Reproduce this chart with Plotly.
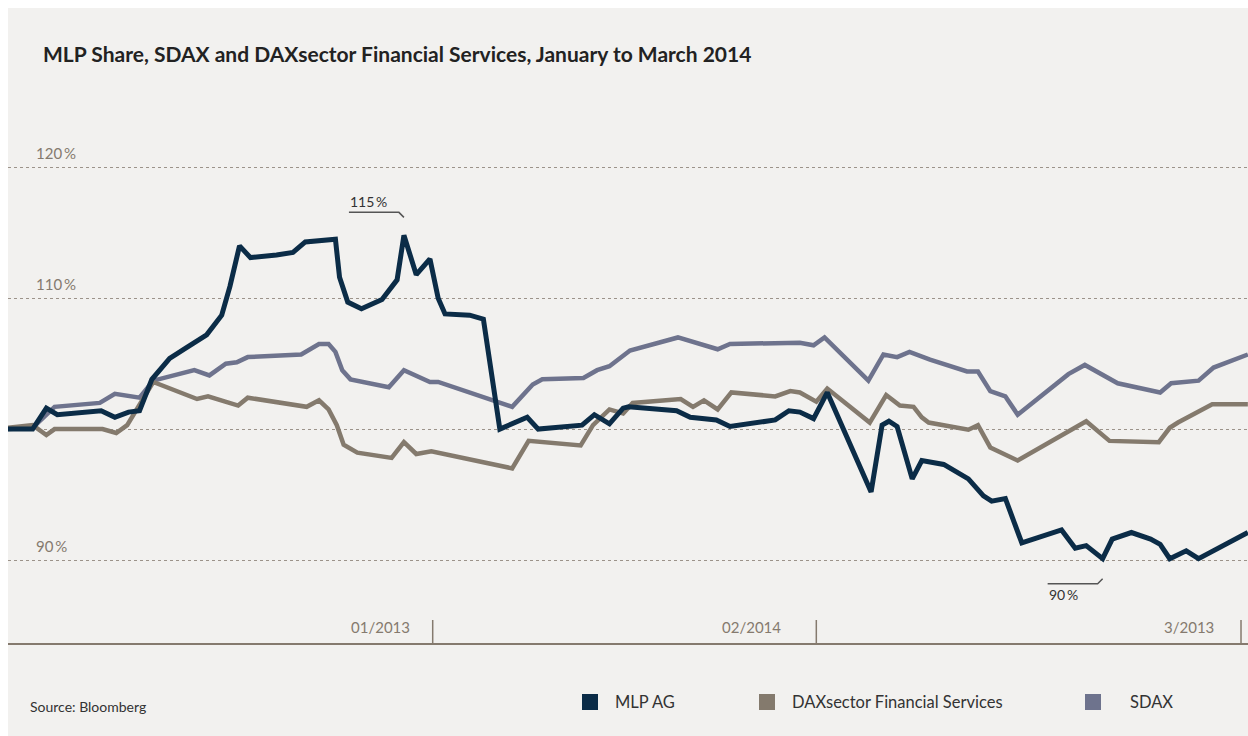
import pandas as pd
import plotly.graph_objects as go

BASE_DATE = "2014-01-01"

# ---- data (day offsets from 1 Jan 2014, index level in %) ----
mlp_days = [0, 1.8, 2.8, 3.6, 6.8, 7.8, 8.8, 9.6, 10.5, 11.8,
            13.0, 14.5, 15.6, 16.2, 16.9, 17.7, 19.6, 20.8, 21.7, 22.8,
            23.9, 24.2, 24.8, 25.8, 27.3, 28.4, 28.9, 29.8, 30.8, 31.4,
            31.9, 33.7, 34.7, 35.9, 37.9, 38.7, 41.9, 42.8, 43.9, 44.9,
            45.3, 48.8, 49.8, 51.7, 52.7, 56.0, 57.0, 57.8, 58.8, 59.8,
            63.0, 63.8, 64.3, 64.9, 66.0, 66.7, 68.3, 70.1, 71.2, 71.8,
            72.8, 74.0, 76.9, 77.9, 78.7, 79.9, 80.6, 82.0, 83.4, 84.1,
            84.8, 86.0, 86.9, 90.5]
mlp_values = [100, 100, 101.6, 101.1, 101.4, 100.9, 101.3, 101.4, 103.8, 105.4,
              106.2, 107.2, 108.7, 110.9, 114.0, 113.1, 113.3, 113.5, 114.3, 114.4,
              114.5, 111.6, 109.7, 109.2, 109.9, 111.4, 114.8, 111.8, 113.0, 110.0,
              108.8, 108.7, 108.4, 100.0, 100.9, 100.0, 100.3, 101.1, 100.4, 101.6,
              101.7, 101.4, 100.9, 100.7, 100.2, 100.7, 101.4, 101.3, 100.8, 102.8,
              95.2, 100.3, 100.6, 100.2, 96.2, 97.6, 97.3, 96.2, 94.9, 94.5,
              94.7, 91.3, 92.3, 90.9, 91.1, 90.1, 91.6, 92.1, 91.6, 91.2,
              90.1, 90.7, 90.1, 92.1]

dax_days = [0, 1.8, 2.8, 3.4, 6.9, 7.9, 8.7, 9.6, 10.6, 13.8,
            14.6, 16.8, 17.5, 21.8, 22.7, 23.4, 24.0, 24.5, 25.5, 28.0,
            28.9, 29.8, 30.9, 36.8, 38.0, 41.8, 42.7, 43.9, 44.9, 45.6,
            49.1, 50.0, 50.8, 51.8, 52.8, 56.0, 57.1, 57.8, 59.0, 59.8,
            62.9, 64.1, 65.1, 66.1, 66.7, 67.2, 70.1, 70.8, 71.7, 73.7,
            78.7, 80.4, 84.0, 84.8, 85.4, 87.9, 90.5]
dax_values = [100.1, 100.3, 99.55, 100, 100, 99.7, 100.3, 101.8, 103.6, 102.3,
              102.5, 101.8, 102.4, 101.7, 102.2, 101.5, 100.3, 98.8, 98.2, 97.8,
              99.0, 98.1, 98.3, 97.0, 99.1, 98.75, 100.3, 101.5, 101.2, 102.0,
              102.3, 101.7, 102.2, 101.5, 102.8, 102.5, 102.9, 102.8, 102.1, 103.1,
              100.5, 102.6, 101.8, 101.7, 100.9, 100.5, 99.95, 100.3, 98.6, 97.6,
              100.6, 99.1, 99.0, 100.1, 100.5, 101.9, 101.9]

sdax_days = [0, 1.8, 3.4, 6.7, 7.8, 9.6, 10.6, 13.6, 14.7, 15.9,
             16.7, 17.5, 21.4, 22.7, 23.4, 23.9, 24.4, 25.0, 27.8, 28.9,
             30.8, 31.4, 36.8, 38.3, 39.0, 42.0, 43.0, 43.9, 45.4, 48.9,
             51.8, 52.7, 57.8, 58.8, 59.6, 62.8, 63.9, 64.9, 65.8, 67.3,
             70.0, 70.8, 71.7, 72.8, 73.7, 77.4, 78.6, 80.1, 81.0, 84.1,
             84.9, 86.9, 88.0, 90.5]
sdax_values = [100, 100.1, 101.7, 102.0, 102.7, 102.4, 103.7, 104.5, 104.1, 105.0,
               105.1, 105.5, 105.7, 106.5, 106.5, 105.9, 104.5, 103.8, 103.2, 104.5,
               103.6, 103.6, 101.7, 103.4, 103.8, 103.9, 104.5, 104.8, 106.0, 107.0,
               106.1, 106.5, 106.6, 106.4, 107.0, 103.7, 105.7, 105.5, 105.9, 105.3,
               104.4, 104.4, 102.9, 102.5, 101.1, 104.2, 104.9, 104.0, 103.5, 102.8,
               103.5, 103.7, 104.7, 105.7]

series_names = ["MLP AG", "DAXsector Financial Services", "SDAX"]
series_colors = ["#0b2c47", "#847a6d", "#6e738d"]

ytick_values = [90, 100, 110, 120]
ytick_labels = ["90\u2009%", "", "110\u2009%", "120\u2009%"]

xtick_dates = ["2014-02-01", "2014-03-01", "2014-04-01"]
xtick_labels = ["01/2013", "02/2014", "3/2013"]

peak_label = {"day": 28.9, "value": 114.8, "text": "115\u2009%"}
low_label = {"day": 79.9, "value": 90.1, "text": "90\u2009%"}

title_text = "MLP Share, SDAX and DAXsector Financial Services, January to March 2014"
source_text = "Source: Bloomberg"

# ---- helpers ----
base = pd.Timestamp(BASE_DATE)


def to_dates(days):
    return [base + pd.Timedelta(days=d) for d in days]


def iso(day):
    return (base + pd.Timedelta(days=day)).strftime("%Y-%m-%d %H:%M:%S")


FONT = "Lato"
BG = "#f2f1ef"
AXIS_COL = "#857a6e"
W, H = 1240, 728
L, R, T, B = 0, 0, 92, 93
PH = H - T - B

fig = go.Figure()

series = [
    (sdax_days, sdax_values, 2, 4.5),
    (dax_days, dax_values, 1, 4.5),
    (mlp_days, mlp_values, 0, 5),
]
for days, vals, idx, lw in series:
    fig.add_trace(go.Scatter(
        x=to_dates(days), y=vals, mode="lines",
        name=series_names[idx],
        line=dict(color=series_colors[idx], width=lw),
        hoverinfo="skip", showlegend=False,
    ))

annotations = []
shapes = []

# title
annotations.append(dict(
    text=title_text, xref="paper", yref="paper",
    x=(41 - 8) / W, y=(643 - 53) / PH, xanchor="left", yanchor="middle",
    showarrow=False, font=dict(family=FONT, size=21, color="#222222", weight=700),
))

# y labels
for v, lab in zip(ytick_values, ytick_labels):
    if not lab:
        continue
    annotations.append(dict(
        text=lab, xref="paper", yref="y", x=(34 - 8) / W, y=v,
        xanchor="left", yanchor="middle", yshift=14, showarrow=False,
        font=dict(family=FONT, size=15, color=AXIS_COL),
    ))

# x ticks (drawn as short upward marks) and labels
label_shift = [-52, -65, -52]
for d, lab, sh in zip(xtick_dates, xtick_labels, label_shift):
    shapes.append(dict(
        type="line", xref="x", yref="paper", x0=d, x1=d,
        y0=0, y1=23 / PH, line=dict(color=AXIS_COL, width=1.5),
    ))
    annotations.append(dict(
        text=lab, xref="x", yref="paper", x=d, y=(643 - 627) / PH,
        xanchor="center", yanchor="middle", xshift=sh, showarrow=False,
        font=dict(family=FONT, size=15, color=AXIS_COL),
    ))

# callouts
for info, up in ((peak_label, 1), (low_label, -1)):
    xa = iso(info["day"])
    ya = info["value"]
    hy = 23 if up > 0 else -25
    dy = 18 if up > 0 else -20
    shapes.append(dict(
        type="path", xref="x", yref="y", xsizemode="pixel", ysizemode="pixel",
        xanchor=xa, yanchor=ya,
        path=f"M -55,{hy} L -5,{hy} L 0,{dy}",
        line=dict(color="#555555", width=1.5),
    ))
    annotations.append(dict(
        text=info["text"], xref="x", yref="y", x=xa, y=ya,
        xanchor="left", yanchor="middle",
        xshift=-56, yshift=(34 if up > 0 else -36), showarrow=False,
        font=dict(family=FONT, size=14, color="#333333"),
    ))

# legend (manual)
legend_sq_x = [582, 759, 1085]
legend_txt_x = [613, 790, 1128]
for i, name in enumerate(series_names):
    shapes.append(dict(
        type="rect", xref="paper", yref="paper",
        x0=(legend_sq_x[i] - 8) / W, x1=(legend_sq_x[i] + 16 - 8) / W,
        y0=(643 - 710) / PH, y1=(643 - 694) / PH,
        fillcolor=series_colors[i], line=dict(width=0),
    ))
    annotations.append(dict(
        text=name, xref="paper", yref="paper",
        x=(legend_txt_x[i] - 8) / W, y=(643 - 702) / PH,
        xanchor="left", yanchor="middle", showarrow=False,
        font=dict(family=FONT, size=16.5, color="#333333"),
    ))

# source
annotations.append(dict(
    text=source_text, xref="paper", yref="paper",
    x=(28 - 8) / W, y=(643 - 706) / PH, xanchor="left", yanchor="middle",
    showarrow=False, font=dict(family=FONT, size=14, color="#333333"),
))

y_lo, y_hi = 83.66, 125.14
fig.update_layout(
    width=W, height=H, autosize=False,
    margin=dict(l=L, r=R, t=T, b=B, pad=0),
    paper_bgcolor=BG, plot_bgcolor=BG,
    showlegend=False,
    annotations=annotations, shapes=shapes,
    xaxis=dict(
        type="date",
        range=[iso(0), iso(90.51)],
        showticklabels=False, ticks="",
        showgrid=False, zeroline=False,
        showline=True, linecolor=AXIS_COL, linewidth=2,
        fixedrange=True,
    ),
    yaxis=dict(
        range=[y_lo, y_hi],
        tickvals=ytick_values, showticklabels=False, ticks="",
        showgrid=True, gridcolor="#9c938a", gridwidth=1, griddash="dot",
        zeroline=False, showline=False, fixedrange=True,
    ),
)

fig.write_html(
    "out.html",
    config={"responsive": False},
    default_width=f"{W}px",
    default_height=f"{H}px",
    post_script=(
        "var gd=document.getElementById('{plot_id}');"
        "document.body.style.margin='0';"
        "gd.style.marginLeft='8px';gd.style.marginTop='8px';"
    ),
)
